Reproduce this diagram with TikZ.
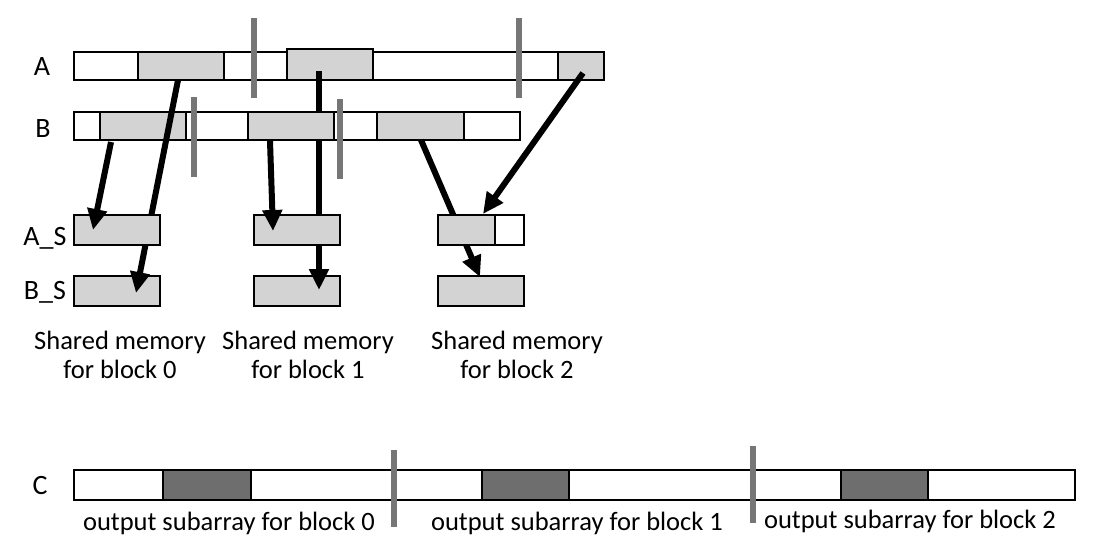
\documentclass[tikz,border=0pt]{standalone}
\usepackage{fontspec}
\setmainfont{Carlito}
\usetikzlibrary{arrows.meta,calc}
\definecolor{lg}{RGB}{211,211,211}
\definecolor{dg}{RGB}{110,110,110}
\definecolor{divc}{RGB}{118,118,118}
\begin{document}
\begin{tikzpicture}[x=1pt,y=-1pt,
  cell/.style={draw=black, line width=2.8pt, anchor=north west, inner sep=0pt, outer sep=0pt, minimum height=28pt},
  wcell/.style={cell, fill=white},
  gcell/.style={cell, fill=lg},
  dcell/.style={cell, fill=dg},
  divider/.style={draw=divc, line width=5.5pt},
  arr/.style={line width=6pt, -{Triangle[length=21pt,width=19pt]}},
  lab/.style={font=\fontsize{28}{32}\selectfont, inner sep=0pt},
  txt/.style={font=\fontsize{26.5}{29}\selectfont, align=center, inner sep=0pt}
]
\useasboundingbox[fill=white] (0,0) rectangle (1098,550);
% row labels
\node[lab] (la) at (42,67) {A};
\node[lab] (lb) at (43,129) {B};
\node[lab] (las) at (45,238) {A\_S};
\node[lab] (lbs) at (45,292) {B\_S};
\node[lab] (lc) at (40,486) {C};
% B_S row (bottom layer)
\node[gcell, minimum width=86pt, minimum height=30pt] (bs0) at (74,276) {};
\node[gcell, minimum width=86pt, minimum height=30pt] (bs1) at (254,276) {};
\node[gcell, minimum width=86pt, minimum height=30pt] (bs2) at (438,276) {};
% A row
\node[wcell, minimum width=64pt] (a0) at (74,52) {};
\node[gcell, minimum width=86pt] (a1) at (138,52) {};
\node[wcell, minimum width=63pt] (a2) at (224,52) {};
\node[gcell, minimum width=86pt, minimum height=31pt] (a3) at (287,49) {};
\node[wcell, minimum width=185pt] (a4) at (373,52) {};
\node[gcell, minimum width=46pt] (a5) at (558,52) {};
\coordinate (da1t) at (254,18); \coordinate (da1b) at (254,98);
\coordinate (da2t) at (519,18); \coordinate (da2b) at (519,98);
\draw[divider] (da1t) -- (da1b);
\draw[divider] (da2t) -- (da2b);
% arrow from A block 1 (passes behind B and A_S)
\draw[arr] ([xshift=32pt,yshift=-22pt]a3.north west) -- ([xshift=65pt,yshift=-14pt]bs1.north west);
% B row
\node[wcell, minimum width=26pt] (b0) at (74,112) {};
\node[gcell, minimum width=86pt] (b1) at (100,112) {};
\node[wcell, minimum width=62pt] (b2) at (186,112) {};
\node[gcell, minimum width=86pt] (b3) at (248,112) {};
\node[wcell, minimum width=43pt] (b4) at (334,112) {};
\node[gcell, minimum width=87pt] (b5) at (377,112) {};
\node[wcell, minimum width=56pt] (b6) at (464,112) {};
\coordinate (db1t) at (194,97); \coordinate (db1b) at (194,177);
\coordinate (db2t) at (340,99); \coordinate (db2b) at (340,179);
\draw[divider] (db1t) -- (db1b);
\draw[divider] (db2t) -- (db2b);
% arrows passing behind A_S
\draw[arr] ([xshift=40pt]a1.south west) -- ([xshift=62pt,yshift=-17pt]bs0.north west);
\draw[arr] ([xshift=44pt]b5.south west) -- ([xshift=42pt,yshift=-1pt]bs2.north west);
% A_S row
\node[gcell, minimum width=86pt, minimum height=30pt] (as0) at (74,215) {};
\node[gcell, minimum width=86pt, minimum height=30pt] (as1) at (254,215) {};
\node[gcell, minimum width=57pt, minimum height=30pt] (as2) at (438,215) {};
\node[wcell, minimum width=29pt, minimum height=30pt] (as2w) at (495,215) {};
% arrows on top
\draw[arr] ([xshift=11pt,yshift=-2pt]b1.south west) -- ([xshift=19pt,yshift=-15pt]as0.north west);
\draw[arr] ([xshift=22pt,yshift=-1pt]b3.south west) -- ([xshift=19pt,yshift=-16pt]as1.north west);
\draw[arr] ([xshift=25pt,yshift=-21pt]a5.north west) -- ([xshift=45pt,yshift=1pt]as2.north west);
% captions
\node[txt] (s0) at (120,355) {Shared memory\\for block 0};
\node[txt] (s1) at (308,355) {Shared memory\\for block 1};
\node[txt] (s2) at (517,355) {Shared memory\\for block 2};
% C row
\node[wcell, minimum width=89pt, minimum height=30pt] (c0) at (74,470) {};
\node[dcell, minimum width=88pt, minimum height=30pt] (c1) at (163,470) {};
\node[wcell, minimum width=231pt, minimum height=30pt] (c2) at (251,470) {};
\node[dcell, minimum width=87pt, minimum height=30pt] (c3) at (482,470) {};
\node[wcell, minimum width=272pt, minimum height=30pt] (c4) at (569,470) {};
\node[dcell, minimum width=87pt, minimum height=30pt] (c5) at (841,470) {};
\node[wcell, minimum width=147pt, minimum height=30pt] (c6) at (928,470) {};
\coordinate (dc1t) at (394,450); \coordinate (dc1b) at (394,527);
\coordinate (dc2t) at (753,446); \coordinate (dc2b) at (753,523);
\draw[divider] (dc1t) -- (dc1b);
\draw[divider] (dc2t) -- (dc2b);
\node[txt] (o0) at (229,523) {output subarray for block 0};
\node[txt] (o1) at (577,523) {output subarray for block 1};
\node[txt] (o2) at (910,521) {output subarray for block 2};
\end{tikzpicture}
\end{document}
